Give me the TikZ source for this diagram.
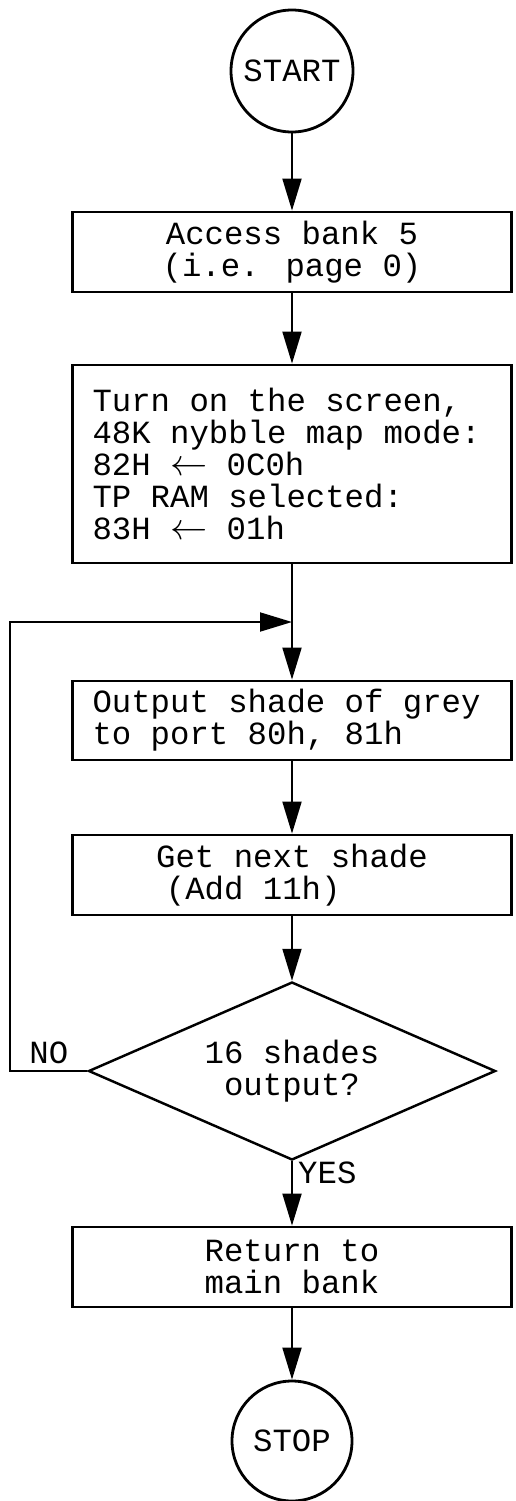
\documentclass[tikz,border=0pt]{standalone}
\usepackage{fontspec}
\setmainfont[WordSpace={1,0,0}]{Liberation Mono}
\usepackage{tikz}
\usetikzlibrary{shapes.geometric, arrows.meta, positioning}
\tikzstyle{terminal} = [circle,
minimum size=2.44cm, inner sep=0pt,
draw=black, line width=1.6pt]
\tikzstyle{process} = [rectangle,
minimum width=8.78cm,
minimum height=1.6cm,
text centered, align=center,
draw=black, line width=1.6pt]
\tikzstyle{listing} = [rectangle,
minimum width=8.78cm,
text width=7.98cm, align=flush left,
inner xsep=0.4cm,
draw=black, line width=1.6pt]
\tikzstyle{decision} = [diamond, aspect=2.29,
minimum width=8.14cm,
minimum height=3.56cm, inner sep=0pt,
align=center,
draw=black, line width=1.4pt]
\tikzstyle{arrow} = [line width=1.1pt,-{Triangle[length=6.4mm,width=3.8mm]}]
\newcommand{\larr}{\resizebox{1.15em}{!}{$\leftarrow$}}

\begin{document}
\begin{tikzpicture}[font=\fontsize{18.4pt}{18.2pt}\selectfont]
            \useasboundingbox (0,0) rectangle (10.3,-30.02);
            \node (start) [terminal] at (5.84,-1.42) {START};
            \node (bank) [process, node distance=3.62cm, below of=start] {Access bank 5\\(i.e. page 0)};
            \node (screen) [listing, minimum height=3.96cm, node distance=4.24cm, below of=bank] {Turn on the screen,\\48K nybble map mode:\\82H \larr{} 0C0h\\TP RAM selected:\\83H \larr{} 01h};
            \coordinate [node distance=3.16cm, below of=screen] (join);
            \node (grey) [listing, minimum height=1.58cm, node distance=1.97cm, below of=join] {Output shade of grey\\to port 80h, 81h};
            \node (next) [process, align=left, node distance=3.09cm, below of=grey] {Get next shade\\\hspace*{0.3em}(Add 11h)};
            \node (test) [decision, node distance=3.92cm, below of=next] {16 shades\\output?};
            \node (ret) [process, node distance=3.92cm, below of=test] {Return to\\main bank};
            \node (stop) [terminal, minimum size=2.4cm, node distance=3.48cm, below of=ret] {STOP};
            \coordinate (back) at ([xshift=-1.54cm]test.west);

            \draw [arrow] (start) -- (bank);
            \draw [arrow] (bank) -- (screen);
            \draw [arrow] (screen) -- (grey);
            \draw [arrow] (grey) -- (next);
            \draw [arrow] (next) -- (test);
            \draw [arrow] (test) -- node[pos=0.18, right, inner sep=3pt] {YES} (ret);
            \draw [arrow] (ret) -- (stop);
            \draw [arrow] (test.west) -- node[above] {NO} (back) |- (join);
        \end{tikzpicture}
\end{document}
